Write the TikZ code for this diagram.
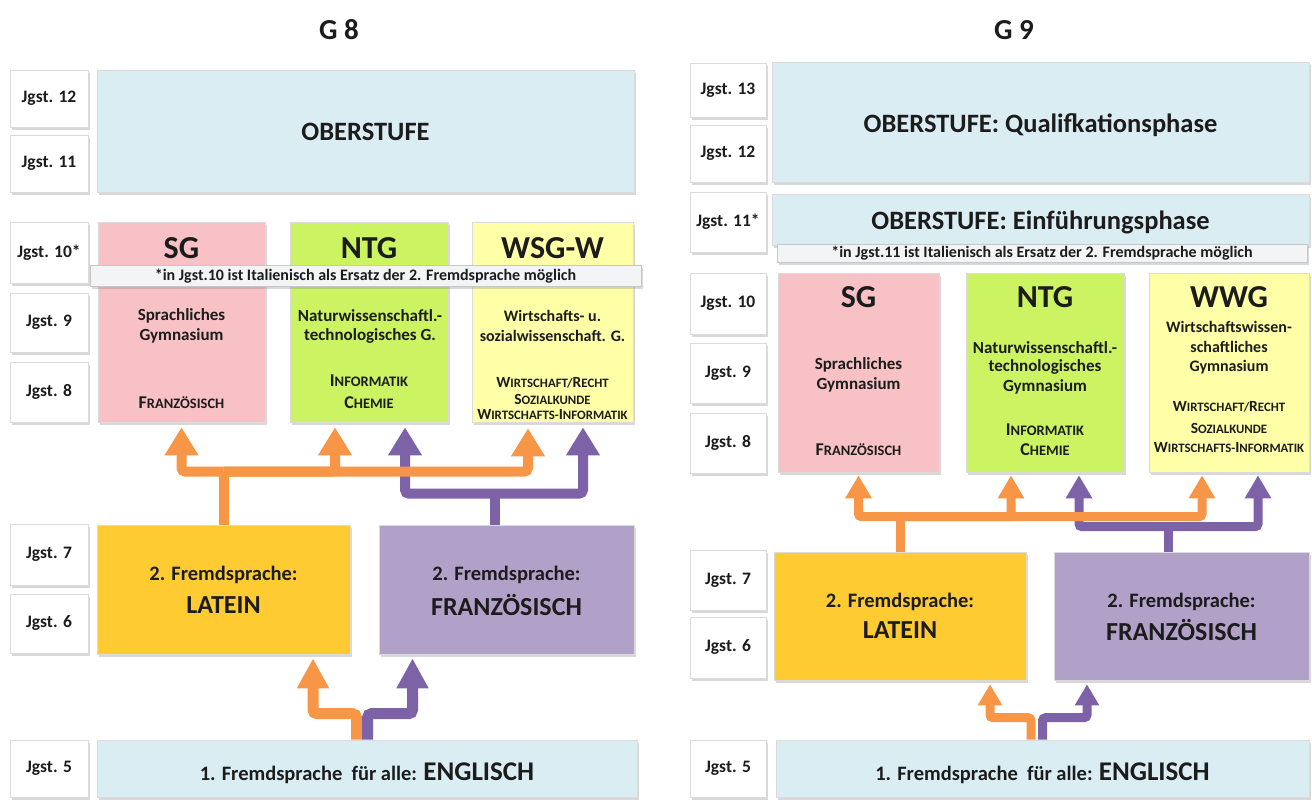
\documentclass[tikz,border=0pt]{standalone}
\usepackage{fontspec}
\setmainfont{Carlito}
\usetikzlibrary{arrows.meta,shadows,calc}
\definecolor{orng}{HTML}{F79646}
\definecolor{purp}{HTML}{7E62A8}
\definecolor{lblue}{HTML}{DAEDF3}
\definecolor{pinkc}{HTML}{F8C1C5}
\definecolor{greenc}{HTML}{CBF362}
\definecolor{yellc}{HTML}{FFFFA8}
\definecolor{goldc}{HTML}{FFCB33}
\definecolor{lavc}{HTML}{B1A1C9}
\definecolor{notec}{HTML}{F2F4F6}
\definecolor{txtc}{HTML}{1C1C1C}
\newcommand\fsz[1]{\fontsize{#1}{#1}\selectfont}
\def\kapsize{14.5}
\newcommand\kap[2]{#1{\fsz{\kapsize}#2}}
\tikzset{
  panel/.style={rectangle, inner sep=0pt, draw=black!14, line width=0.6pt,
    drop shadow={shadow xshift=2pt, shadow yshift=-2.5pt, opacity=0.3}},
  lab/.style={panel, fill=white, text=txtc, font=\fsz{17.5}\bfseries},
  colbox/.style={panel, fill=#1},
  notebox/.style={panel, fill=notec, draw=black!22, text=txtc, font=\fsz{16}\bfseries},
  txt/.style={inner sep=0pt, text=txtc, font=\fsz{17}\bfseries},
  txtw/.style={inner sep=0pt, text=txtc, font=\fsz{16}\bfseries},
  sck/.style={inner sep=0pt, text=txtc, font=\fsz{18}\bfseries\def\kapsize{14.5}},
  sckw/.style={inner sep=0pt, text=txtc, font=\fsz{15.5}\bfseries\def\kapsize{12.8}},
  ttl/.style={inner sep=0pt, text=txtc, font=\fsz{32}\bfseries},
  big/.style={inner sep=0pt, text=txtc, font=\fsz{26.5}\bfseries},
  gtl/.style={inner sep=0pt, text=txtc, font=\fsz{29}\bfseries},
  fr1/.style={inner sep=0pt, text=txtc, font=\fsz{20.5}\bfseries},
  fr2/.style={inner sep=0pt, text=txtc, font=\fsz{26}\bfseries},
  arrA/.style={line width=10pt, rounded corners=4pt, -{Triangle[width=32pt,length=28pt]}},
  arrB/.style={line width=11pt, rounded corners=4pt, -{Triangle[width=30pt,length=30pt]}},
  arrC/.style={line width=9pt, rounded corners=3pt, -{Triangle[width=25pt,length=23pt]}},
  arrD/.style={line width=9pt, rounded corners=3pt, -{Triangle[width=23pt,length=21pt]}},
  stemA/.style={line width=10pt},
  stemC/.style={line width=9pt},
}
\begin{document}
\begin{tikzpicture}[x=1pt,y=-1pt]
\useasboundingbox (0,0) rectangle (1312,803);
\fill[white] (0,0) rectangle (1312,803);

% ================= G8 =================
\node[gtl] (title8) at (339,30) {G 8};
\node[lab, minimum width=78pt, minimum height=57pt] (l12) at (49,98.5) {Jgst. 12};
\node[lab, minimum width=78pt, minimum height=57pt] (l11) at (49,163.5) {Jgst. 11};
\node[lab, minimum width=78pt, minimum height=61pt] (l10) at (49,252.5) {Jgst. 10*};
\node[lab, minimum width=78pt, minimum height=59pt] (l9) at (49,322.5) {Jgst. 9};
\node[lab, minimum width=78pt, minimum height=60pt] (l8) at (49,392) {Jgst. 8};
\node[lab, minimum width=78pt, minimum height=61pt] (l7) at (49,554.5) {Jgst. 7};
\node[lab, minimum width=78pt, minimum height=59pt] (l6) at (49,623.5) {Jgst. 6};
\node[lab, minimum width=78pt, minimum height=57pt] (l5) at (49,768.5) {Jgst. 5};

\node[colbox=lblue, minimum width=537pt, minimum height=122pt] (ober8) at (365.5,131) {};
\node[big] (ober8t) at (365.5,132) {OBERSTUFE};

\node[colbox=pinkc, minimum width=167pt, minimum height=200pt] (sg8) at (181.5,322) {};
\node[colbox=greenc, minimum width=158pt, minimum height=200pt] (ntg8) at (369,322) {};
\node[colbox=yellc, minimum width=161pt, minimum height=200pt] (wsg8) at (552.5,322) {};
\node[ttl] (sg8t) at (181.5,248) {SG};
\node[ttl] (ntg8t) at (369,248) {NTG};
\node[ttl] (wsg8t) at (552.5,248) {WSG-W};
\node[notebox, minimum width=551pt, minimum height=21pt] (note8) at (365.5,276)
  {*in Jgst.10 ist Italienisch als Ersatz der 2. Fremdsprache möglich};

\node[txt] (sg8a) at (181.5,316) {Sprachliches};
\node[txt] (sg8b) at (181.5,336) {Gymnasium};
\node[sck] (sg8c) at (181.5,403) {\kap{F}{RANZÖSISCH}};
\node[txt] (ntg8a) at (370,316) {Naturwissenschaftl.-};
\node[txt] (ntg8b) at (370,336) {technologisches G.};
\node[sck] (ntg8c) at (369,381) {\kap{I}{NFORMATIK}};
\node[sck] (ntg8d) at (369,403) {\kap{C}{HEMIE}};
\node[txtw] (wsg8a) at (552.5,316) {Wirtschafts- u.};
\node[txtw] (wsg8b) at (552.5,336) {sozialwissenschaft. G.};
\node[sckw] (wsg8c) at (552.5,383) {\kap{W}{IRTSCHAFT/}\kap{R}{ECHT}};
\node[sckw] (wsg8d) at (552.5,399) {\kap{S}{OZIALKUNDE}};
\node[sckw] (wsg8e) at (552.5,415) {\kap{W}{IRTSCHAFTS-}\kap{I}{NFORMATIK}};

\node[colbox=goldc, minimum width=253pt, minimum height=129pt] (lat8) at (223.5,589.5) {};
\node[colbox=lavc, minimum width=255pt, minimum height=129pt] (fr8) at (506.5,589.5) {};
\node[fr1] (lat8a) at (223.5,575) {2. Fremdsprache:};
\node[fr2] (lat8b) at (223.5,605) {LATEIN};
\node[fr1] (fr8a) at (506.5,575) {2. Fremdsprache:};
\node[fr2] (fr8b) at (506.5,605) {FRANZÖSISCH};

\node[colbox=lblue, minimum width=540pt, minimum height=57pt] (eng8) at (367,768.5) {};
\node[fr1, anchor=base] (eng8t) at (367,780) {1. Fremdsprache\ \ für alle: {\fsz{27}ENGLISCH}};

% arrows G8 top
\coordinate (ps8) at ($(fr8.north)+(-11.5,0)$);
\coordinate (pj8) at ($(fr8.north)+(-11.5,-31)$);
\coordinate (tpn8) at ($(ntg8.south)+(36,5)$);
\coordinate (tpw8) at ($(wsg8.south)+(30.5,5)$);
\draw[purp, stemA] (ps8) -- (pj8);
\draw[purp, arrA] (pj8) -| (tpn8);
\draw[purp, arrA] (pj8) -| (tpw8);

\coordinate (oj8) at ($(lat8.north)+(0,-53)$);
\coordinate (tos8) at ($(sg8.south)+(0,5)$);
\coordinate (ton8) at ($(ntg8.south)+(-34,5)$);
\coordinate (tow8) at ($(wsg8.south)+(-24.5,6)$);
\draw[orng, stemA] (lat8.north) -- (oj8);
\draw[orng, arrA] (oj8) -| (tos8);
\draw[orng, arrA] (oj8) -| (ton8);
\draw[orng, arrA] (oj8) -| (tow8);

% arrows G8 bottom
\coordinate (eo8) at ($(eng8.north)+(-10.5,0)$);
\coordinate (ep8) at ($(eng8.north)+(0.5,0)$);
\coordinate (tl8) at ($(lat8.south)+(89.5,4)$);
\coordinate (tr8) at ($(fr8.south)+(-94,4)$);
\draw[orng, arrB] (eo8) -- ++(0,-26) -| (tl8);
\draw[purp, arrB] (ep8) -- ++(0,-26) -| (tr8);

% ================= G9 =================
\node[gtl] (title9) at (1014,30) {G 9};
\node[lab, minimum width=76pt, minimum height=54pt] (m13) at (728,90) {Jgst. 13};
\node[lab, minimum width=76pt, minimum height=57pt] (m12) at (728,153.5) {Jgst. 12};
\node[lab, minimum width=76pt, minimum height=60pt] (m11) at (728,222) {Jgst. 11*};
\node[lab, minimum width=76pt, minimum height=61pt] (m10) at (728,303.5) {Jgst. 10};
\node[lab, minimum width=76pt, minimum height=60pt] (m9) at (728,373) {Jgst. 9};
\node[lab, minimum width=76pt, minimum height=60pt] (m8) at (728,443) {Jgst. 8};
\node[lab, minimum width=76pt, minimum height=60pt] (m7) at (728,580) {Jgst. 7};
\node[lab, minimum width=76pt, minimum height=61pt] (m6) at (728,647.5) {Jgst. 6};
\node[lab, minimum width=76pt, minimum height=57pt] (m5) at (728,768.5) {Jgst. 5};

\node[colbox=lblue, minimum width=537pt, minimum height=120pt] (quali) at (1040.5,122) {};
\node[big] (qualit) at (1040.5,125) {OBERSTUFE: Qualifkationsphase};
\node[colbox=lblue, minimum width=537pt, minimum height=51pt] (einf) at (1040.5,219.5) {};
\node[big] (einft) at (1040.5,222) {OBERSTUFE: Einführungsphase};
\node[notebox, minimum width=530pt, minimum height=18pt] (note9) at (1042,253.5)
  {*in Jgst.11 ist Italienisch als Ersatz der 2. Fremdsprache möglich};

\node[colbox=pinkc, minimum width=161pt, minimum height=199pt] (sg9) at (858.5,372.5) {};
\node[colbox=greenc, minimum width=158pt, minimum height=199pt] (ntg9) at (1045,372.5) {};
\node[colbox=yellc, minimum width=160pt, minimum height=199pt] (wwg9) at (1229,372.5) {};
\node[ttl] (sg9t) at (858.5,297) {SG};
\node[ttl] (ntg9t) at (1045,297) {NTG};
\node[ttl] (wwg9t) at (1229,297) {WWG};
\node[txt] (sg9a) at (858.5,365) {Sprachliches};
\node[txt] (sg9b) at (858.5,385) {Gymnasium};
\node[sck] (sg9c) at (858.5,450) {\kap{F}{RANZÖSISCH}};
\node[txt] (ntg9a) at (1045,348) {Naturwissenschaftl.-};
\node[txt] (ntg9b) at (1045,367) {technologisches};
\node[txt] (ntg9c) at (1045,387) {Gymnasium};
\node[sck] (ntg9d) at (1045,430) {\kap{I}{NFORMATIK}};
\node[sck] (ntg9e) at (1045,450) {\kap{C}{HEMIE}};
\node[txtw] (wwg9a) at (1229,327) {Wirtschaftswissen-};
\node[txtw] (wwg9b) at (1229,347) {schaftliches};
\node[txtw] (wwg9c) at (1229,367) {Gymnasium};
\node[sckw] (wwg9d) at (1229,407) {\kap{W}{IRTSCHAFT/}\kap{R}{ECHT}};
\node[sckw] (wwg9e) at (1229,428) {\kap{S}{OZIALKUNDE}};
\node[sckw] (wwg9f) at (1229,448) {\kap{W}{IRTSCHAFTS-}\kap{I}{NFORMATIK}};

\node[colbox=goldc, minimum width=252pt, minimum height=128pt] (lat9) at (900,616) {};
\node[colbox=lavc, minimum width=255pt, minimum height=128pt] (fr9) at (1181.5,616) {};
\node[fr1] (lat9a) at (900,602) {2. Fremdsprache:};
\node[fr2] (lat9b) at (900,630) {LATEIN};
\node[fr1] (fr9a) at (1181.5,602) {2. Fremdsprache:};
\node[fr2] (fr9b) at (1181.5,630) {FRANZÖSISCH};

\node[colbox=lblue, minimum width=533pt, minimum height=57pt] (eng9) at (1042.5,768.5) {};
\node[fr1, anchor=base] (eng9t) at (1042.5,780) {1. Fremdsprache\ \ für alle: {\fsz{27}ENGLISCH}};

% arrows G9 top
\coordinate (ps9) at ($(fr9.north)+(-13.5,0)$);
\coordinate (pj9) at ($(fr9.north)+(-13.5,-25)$);
\coordinate (tpn9) at ($(ntg9.south)+(34,3)$);
\coordinate (tpw9) at ($(wwg9.south)+(29,3)$);
\draw[purp, stemC] (ps9) -- (pj9);
\draw[purp, arrC] (pj9) -| (tpn9);
\draw[purp, arrC] (pj9) -| (tpw9);

\coordinate (oj9) at ($(lat9.north)+(0,-35)$);
\coordinate (tos9) at ($(sg9.south)+(0,3)$);
\coordinate (ton9) at ($(ntg9.south)+(-34,3)$);
\coordinate (tow9) at ($(wwg9.south)+(-27,3)$);
\draw[orng, stemC] (lat9.north) -- (oj9);
\draw[orng, arrC] (oj9) -| (tos9);
\draw[orng, arrC] (oj9) -| (ton9);
\draw[orng, arrC] (oj9) -| (tow9);

% arrows G9 bottom
\coordinate (eo9) at ($(eng9.north)+(-11.5,0)$);
\coordinate (ep9) at ($(eng9.north)+(0,0)$);
\coordinate (tl9) at ($(lat9.south)+(90,4)$);
\coordinate (tr9) at ($(fr9.south)+(-94.5,4)$);
\draw[orng, arrD] (eo9) -- ++(0,-22) -| (tl9);
\draw[purp, arrD] (ep9) -- ++(0,-22) -| (tr9);
\end{tikzpicture}
\end{document}
